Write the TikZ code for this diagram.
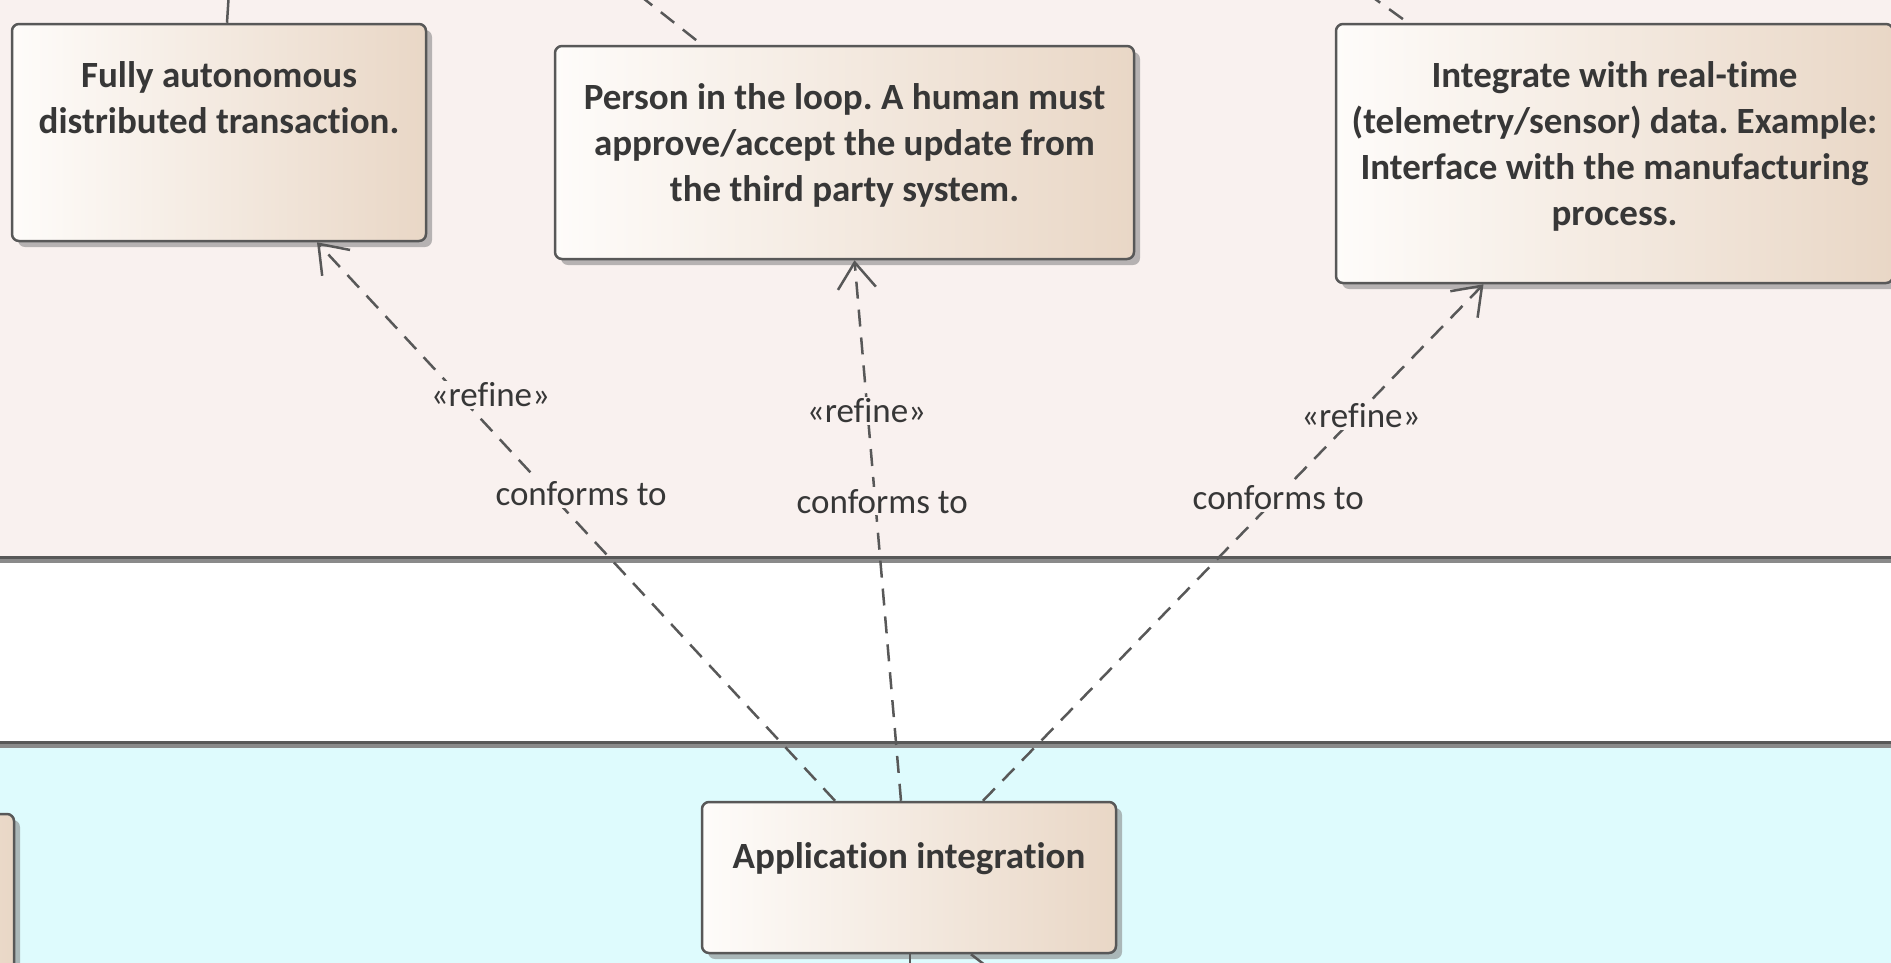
\documentclass[tikz,border=0pt]{standalone}
\usepackage{fontspec}
\setmainfont[Ligatures=NoCommon]{Carlito}
\usetikzlibrary{arrows.meta, positioning, shadows}
\frenchspacing

\definecolor{lanepink}{RGB}{249,241,239}
\definecolor{lanecyan}{RGB}{222,251,253}
\definecolor{boxtan}{RGB}{233,215,198}
\definecolor{boxwhite}{RGB}{254,252,250}
\definecolor{edgegray}{RGB}{88,88,88}
\definecolor{textgray}{RGB}{55,55,55}

\begin{document}
\begin{tikzpicture}[
  x=1pt, y=-1pt,
  reqbox/.style={draw=edgegray, line width=2.5pt, rounded corners=7pt,
    left color=boxwhite, right color=boxtan,
    drop shadow={shadow xshift=6pt, shadow yshift=-6pt, fill=black!50, opacity=0.55}},
  boxtext/.style={font=\bfseries\fontsize{37}{46}\selectfont, text=textgray, align=center, inner sep=0pt},
  lbl/.style={font=\fontsize{35}{40}\selectfont, text=textgray, fill=lanepink, inner sep=2pt},
  refines/.style={draw=edgegray, line width=2.5pt, dash pattern=on 17pt off 11pt,
    -{Straight Barb[length=26pt, width=38pt, line width=2.5pt]}},
  link/.style={draw=edgegray, line width=2.5pt}
]
\clip (0,0) rectangle (1891,962);
% Lanes
\fill[lanepink] (-10,-10) rectangle (1901,557);
\fill[lanecyan] (-10,742) rectangle (1901,972);
\draw[edgegray!70, line width=5pt] (-10,560) -- (1901,560);
\draw[edgegray, line width=3pt] (-10,557) -- (1901,557);
\draw[edgegray!70, line width=5pt] (-10,745) -- (1901,745);
\draw[edgegray, line width=3pt] (-10,742) -- (1901,742);

% Requirement boxes
\node[reqbox, minimum width=414pt, minimum height=217pt] (auton) at (219,132.5) {};
\node[boxtext, below=39pt of auton.north] {Fully autonomous\\distributed transaction.};
\node[reqbox, minimum width=579pt, minimum height=213pt] (person) at (844.5,152.5) {};
\node[boxtext, below=39pt of person.north] {Person in the loop. A human must\\approve/accept the update from\\the third party system.};
\node[reqbox, minimum width=557pt, minimum height=259pt] (realtime) at (1614.5,153.5) {};
\node[boxtext, below=39pt of realtime.north] {Integrate with real-time\\(telemetry/sensor) data. Example:\\Interface with the manufacturing\\process.};

% Integration lane
\node[reqbox, minimum width=414pt, minimum height=151pt] (appint) at (909,877.5) {};
\node[boxtext, below=42pt of appint.north] {Application integration};
\node[reqbox, minimum width=314pt, minimum height=286pt] (leftbox) at (-143,957) {};

% Ends outside the view
\coordinate (upA) at (231,-40);
\coordinate (upB) at (595,-40);
\coordinate (upC) at (1321,-40);
\coordinate (downA) at (910,1000);
\coordinate (downB) at (1030,1000);

% Edges
\draw[link] (upA) -- ([xshift=8pt]auton.north);
\draw[link, dash pattern=on 17pt off 11pt] (upB) -- ([xshift=-142.5pt]person.north);
\draw[link, dash pattern=on 17pt off 11pt] (upC) -- ([xshift=-206.5pt]realtime.north);
\draw[link] ([xshift=1pt]appint.south) -- (downA);
\draw[link] ([xshift=62pt]appint.south) -- (downB);

% Refinements
\draw[refines] ([xshift=-74pt]appint.north) -- ([xshift=98pt]auton.south)
  node[lbl, pos=0.55, xshift=31pt] {conforms to}
  node[lbl, pos=0.727, xshift=32pt] {«refine»};
\draw[refines] ([xshift=-8pt]appint.north) -- ([xshift=10pt]person.south)
  node[lbl, pos=0.554, xshift=7pt] {conforms to}
  node[lbl, pos=0.721, xshift=-1pt] {«refine»};
\draw[refines] ([xshift=74pt]appint.north) -- ([xshift=-131pt]realtime.south)
  node[lbl, pos=0.586, xshift=2pt] {conforms to}
  node[lbl, pos=0.745, xshift=5pt] {«refine»};
\end{tikzpicture}
\end{document}
